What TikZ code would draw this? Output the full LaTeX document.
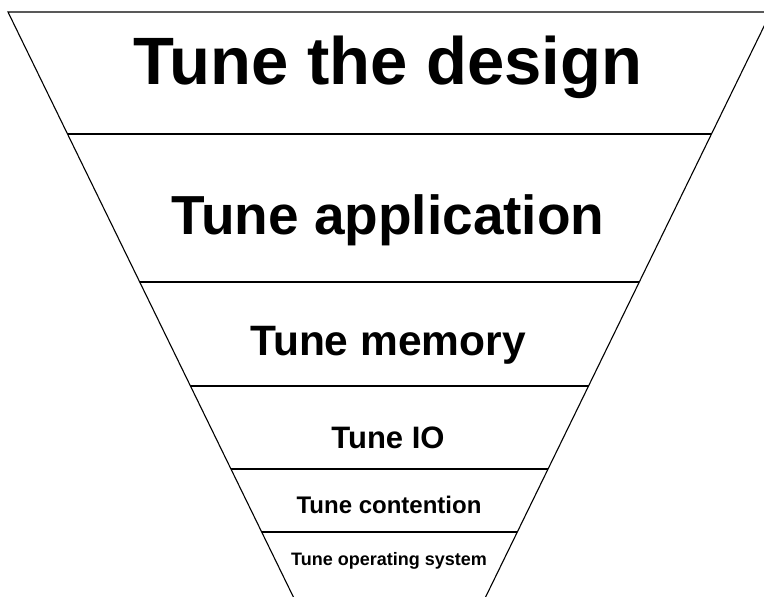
\documentclass[tikz,border=0pt]{standalone}
\usepackage{fontspec}
\setmainfont{Liberation Sans}
\usetikzlibrary{calc}
\begin{document}
\begin{tikzpicture}[x=1pt,y=-1pt,
  edge/.style={line width=1.1pt,black},
  lbl/.style={anchor=base,inner sep=0pt,font=\bfseries}]
\useasboundingbox (0,0) rectangle (764,597);
\clip (0,0) rectangle (764,597);
\coordinate (TL) at (8,12);
\coordinate (TR) at (771,12);
\coordinate (AP) at (389.5,794);
\draw[edge] (TL) -- (TR) -- (AP) -- cycle;
\foreach \yy/\nm in {134/a,282/b,386/c,469/d,532/e}{
  \pgfmathsetmacro{\t}{(\yy-12)/782}
  \draw[edge] ($(TL)!\t!(AP)$) coordinate (L\nm) -- ($(TR)!\t!(AP)$) coordinate (R\nm);
}
\node[lbl,font=\bfseries\fontsize{67}{67}\selectfont] (n1) at (388,84) {Tune the design};
\node[lbl,font=\bfseries\fontsize{55}{55}\selectfont] (n2) at (388,234) {Tune application};
\node[lbl,font=\bfseries\fontsize{42.5}{42.5}\selectfont] (n3) at (388,355) {Tune memory};
\node[lbl,font=\bfseries\fontsize{31}{31}\selectfont] (n4) at (388,448) {Tune IO};
\node[lbl,font=\bfseries\fontsize{24}{24}\selectfont] (n5) at (389,513) {Tune contention};
\node[lbl,font=\bfseries\fontsize{18}{18}\selectfont] (n6) at (389,565) {Tune operating system};
\end{tikzpicture}
\end{document}
